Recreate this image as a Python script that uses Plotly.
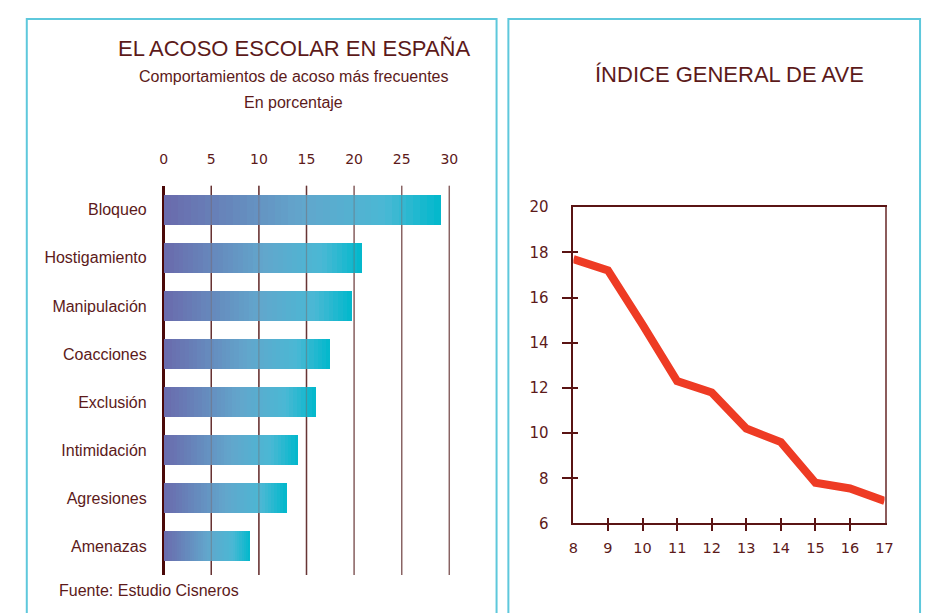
import plotly.graph_objects as go

# ---------------- data ----------------
categories = ["Bloqueo", "Hostigamiento", "Manipulación", "Coacciones",
              "Exclusión", "Intimidación", "Agresiones", "Amenazas"]
percent = [29.1, 20.8, 19.8, 17.5, 16.0, 14.1, 12.9, 9.1]
bar_ticks = [0, 5, 10, 15, 20, 25, 30]

ages = [8, 9, 10, 11, 12, 13, 14, 15, 16, 17]
ave_index = [17.7, 17.2, 14.8, 12.3, 11.8, 10.2, 9.6, 7.8, 7.55, 7.0]
age_ticks = [8, 9, 10, 11, 12, 13, 14, 15, 16, 17]
index_ticks = [6, 8, 10, 12, 14, 16, 18, 20]

# ---------------- style ----------------
# the page body has an 8px margin, so the figure is sized to fit the window
OFF = 8
W, H = 932 - OFF, 613 - OFF
TXT = "#5c1a1a"
AX = "#5a1414"
AX_LIGHT = "#8c5c5c"
CYAN_BORDER = "#5ec8dc"
FONT = "Liberation Sans, Arial, sans-serif"
NUMFONT = "DejaVu Sans, sans-serif"
grid_colors = ["#5a1010", "#5a1010", "#5a1010", "#946464", "#946464", "#946464"]

def px(x):   # window pixel -> paper fraction
    return (x - OFF) / W

def py(y):
    return (H - (y - OFF)) / H

# gradient stops (fraction, rgb)
stops = [(0.0, (106, 106, 172)), (0.5, (98, 166, 204)),
         (0.8, (74, 184, 212)), (1.0, (0, 184, 204))]

def grad(t):
    for (t0, c0), (t1, c1) in zip(stops[:-1], stops[1:]):
        if t <= t1:
            f = (t - t0) / (t1 - t0) if t1 > t0 else 0
            return "rgb(%d,%d,%d)" % tuple(round(a + (b - a) * f) for a, b in zip(c0, c1))
    return "rgb(%d,%d,%d)" % stops[-1][1]

N = 40
fig = go.Figure()
for k in range(N):
    fig.add_trace(go.Bar(
        y=categories, x=[v / N for v in percent], orientation="h",
        marker=dict(color=grad((k + 0.5) / N), line=dict(width=0)),
        width=0.63, xaxis="x", yaxis="y", showlegend=False, hoverinfo="skip"))

fig.add_trace(go.Scatter(
    x=ages, y=ave_index, mode="lines",
    line=dict(color="#ee3b24", width=8),
    xaxis="x2", yaxis="y2", showlegend=False))

# transparent copies so the overlay axes (crossing ticks, right frame) are drawn
for xa, ya in [("x3", "y3"), ("x2", "y4")]:
    fig.add_trace(go.Scatter(
        x=ages, y=ave_index, mode="lines", opacity=0,
        line=dict(color="rgba(0,0,0,0)", width=0),
        xaxis=xa, yaxis=ya, showlegend=False, hoverinfo="skip"))

shapes = []
# vertical gridlines: solid below the bars, faint on top of them
for t, c in zip(bar_ticks[1:], grid_colors):
    shapes.append(dict(type="line", xref="x", yref="y domain", x0=t, x1=t, y0=0, y1=1,
                       line=dict(color=c, width=1.4), layer="below"))
    shapes.append(dict(type="line", xref="x", yref="y domain", x0=t, x1=t, y0=0, y1=1,
                       line=dict(color="rgba(120,100,100,0.45)", width=1.2), layer="above"))

# panel borders
shapes.append(dict(type="rect", xref="paper", yref="paper",
                   x0=px(22), x1=px(499), y0=-0.05, y1=py(10),
                   line=dict(color=CYAN_BORDER, width=2), layer="below"))
shapes.append(dict(type="rect", xref="paper", yref="paper",
                   x0=px(511), x1=px(929), y0=-0.05, y1=py(10),
                   line=dict(color=CYAN_BORDER, width=2), layer="below"))

annotations = [
    dict(text="EL ACOSO ESCOLAR EN ESPAÑA", x=px(293), y=py(40), font=dict(size=22, color=TXT, family=FONT)),
    dict(text="Comportamientos de acoso más frecuentes", x=px(293), y=py(69), font=dict(size=16, color=TXT, family=FONT)),
    dict(text="En porcentaje", x=px(293), y=py(96), font=dict(size=16, color=TXT, family=FONT)),
    dict(text="ÍNDICE GENERAL DE AVE", x=px(735.5), y=py(67), font=dict(size=22, color=TXT, family=FONT)),
    dict(text="Fuente: Estudio Cisneros", x=px(53), y=py(599), xanchor="left",
         font=dict(size=16, color=TXT, family=FONT)),
]
for a in annotations:
    a.update(xref="paper", yref="paper", showarrow=False, yanchor="middle")
    a.setdefault("xanchor", "center")

fig.update_layout(
    width=W, height=H, margin=dict(l=0, r=0, t=0, b=0),
    paper_bgcolor="white", plot_bgcolor="rgba(0,0,0,0)",
    barmode="stack", bargap=0.37,
    shapes=shapes, annotations=annotations,
    xaxis=dict(domain=[px(161), px(452)], range=[0, 30.1], side="top",
               tickvals=bar_ticks, ticks="", showline=False, showgrid=False,
               zeroline=True, zerolinecolor="#4a0808", zerolinewidth=3,
               tickfont=dict(family=NUMFONT, size=14, color=TXT),
               ticklabelstandoff=18, anchor="y", fixedrange=True),
    yaxis=dict(domain=[py(583), py(182)], type="category",
               categoryarray=categories, range=[7.6, -0.5],
               showgrid=False, zeroline=False, showline=False, ticks="",
               tickfont=dict(family=FONT, size=16, color=TXT),
               ticklabelstandoff=16, anchor="x"),
    xaxis2=dict(domain=[px(577), px(893)], range=[8, 17], tickvals=age_ticks,
                ticks="inside", ticklen=6, tickcolor=AX, tickwidth=1.5,
                showline=True, linecolor=AX, linewidth=1.5, mirror=True,
                showgrid=False, zeroline=False, anchor="y2",
                tickfont=dict(family=NUMFONT, size=14.5, color=TXT),
                ticklabelstandoff=10),
    yaxis2=dict(domain=[py(530), py(204)], range=[6, 20], tickvals=index_ticks,
                ticks="inside", ticklen=5, tickcolor=AX, tickwidth=1.5,
                showline=True, linecolor=AX, linewidth=1.5, mirror=False,
                showgrid=False, zeroline=False, anchor="x2",
                tickfont=dict(family=NUMFONT, size=15, color=TXT),
                ticklabelstandoff=20),
    xaxis3=dict(overlaying="x2", anchor="y2", range=[8, 17], tickvals=age_ticks[1:-1],
                ticks="outside", ticklen=7, tickcolor=AX, tickwidth=1.5,
                showticklabels=False, showline=False, showgrid=False, zeroline=False),
    yaxis3=dict(overlaying="y2", anchor="x2", range=[6, 20], tickvals=index_ticks[1:-1],
                ticks="outside", ticklen=10, tickcolor=AX, tickwidth=1.5,
                showticklabels=False, showline=False, showgrid=False, zeroline=False),
    yaxis4=dict(overlaying="y2", anchor="x2", side="right", range=[6, 20],
                showline=True, linecolor=AX_LIGHT, linewidth=1.5, ticks="",
                showticklabels=False, showgrid=False, zeroline=False),
)

fig.write_html("out.html", config={"displayModeBar": False})
